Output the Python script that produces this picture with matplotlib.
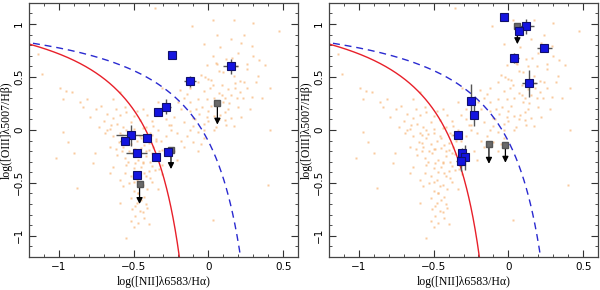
import numpy as np
import matplotlib
matplotlib.use("Agg")
import matplotlib.pyplot as plt
from matplotlib.ticker import MultipleLocator

# background galaxy sample (same in both panels)
bg_x = [-0.36, 0.03, 0.17, 0.30, 0.47, -0.11, -0.03, 0.06, 0.15, 0.24, 0.29,
        0.03, 0.12, 0.20, 0.38, -0.01, 0.07, 0.17, 0.24, 0.33,
        -0.07, -0.03, 0.03, 0.13, 0.15, 0.21, 0.29, 0.41,
        -0.14, -0.12, -0.07, -0.01, 0.02, 0.10, 0.13, 0.20, 0.28,
        -0.20, -0.18, -0.12, -0.06, -0.01, 0.08, 0.15, 0.22,
        -0.23, -0.16, -0.10, -0.03, 0.05, 0.17,
        -1.11, -1.14, -0.99, -0.95, -0.91, -0.97, -0.86, -0.81, -0.84, -0.75,
        -0.72, -0.68, -0.79, -0.64, -0.59, -0.55, -0.48, -0.61, -0.52, -0.46,
        -0.41, -0.73, -0.66, -0.57, -0.50, -0.42, -0.37, -0.32, -0.28, -0.34,
        -0.31, -0.64, -0.59,
        -0.97, -0.94, -1.02, -0.90, -0.88, -0.76, -0.77, -0.66, -0.69,
        -0.68, -0.64, -0.60, -0.57, -0.52, -0.48, -0.43, -0.40, -0.37, -0.32,
        -0.28, -0.25, -0.21, -0.18, -0.14, -0.10, -0.07, -0.61, -0.56, -0.51,
        -0.47, -0.42, -0.39, -0.34, -0.31, -0.55, -0.50, -0.45, -0.40, -0.36,
        -0.52, -0.48, -0.42, -0.38, -0.46, -0.41, -0.50, -0.43, -0.52, -0.48,
        -0.42, -0.51, -0.46, -0.49, -0.43, -0.52, -0.47, -0.55,
        -0.66, -0.59, -0.55, -0.39, -0.34, -0.31, -0.64, -0.56, -0.59, -0.31,
        -0.57, -0.34, -0.59,
        -0.05, -0.03, 0.04, -0.16, -0.23, -0.21, -0.07, -0.12, 0.41, 0.03, 0.40,
        -0.54, -0.50, -0.45, -0.44, -0.38, -0.47, -0.53, -0.58, -0.35, -0.26,
        0.00, 0.09, 0.19, 0.26, 0.11, -0.05, 0.05, 0.18, -0.09, 0.01, 0.34]
bg_y = [1.15, 1.04, 1.04, 1.01, 0.93, 0.98, 0.81, 0.90, 0.86, 0.90, 0.79,
        0.70, 0.67, 0.73, 0.61, 0.61, 0.56, 0.51, 0.45, 0.51,
        0.45, 0.37, 0.42, 0.39, 0.33, 0.36, 0.31, 0.40,
        0.34, 0.26, 0.29, 0.29, 0.23, 0.26, 0.20, 0.22, 0.20,
        0.26, 0.20, 0.18, 0.15, 0.12, 0.14, 0.11, 0.12,
        0.12, 0.075, 0.04, 0.06, 0.03, 0.04,
        0.53, 0.72, 0.40, 0.37, 0.36, 0.29, 0.26, 0.29, 0.22, 0.20,
        0.23, 0.15, 0.12, 0.11, 0.14, 0.17, 0.18, 0.06, 0.075, 0.09,
        0.14, 0.03, 0.01, 0.03, 0.01, 0.03, 0.04, 0.14, 0.20, 0.26,
        0.40, 0.29, 0.36,
        -0.02, -0.11, -0.27, -0.22, -0.55, -0.22, -0.31, -0.41, -0.03,
        0.00, -0.06, -0.11, -0.16, -0.13, -0.10, -0.14, -0.19, -0.16, -0.10,
        -0.06, 0.00, -0.03, -0.10, -0.06, -0.11, -0.02, -0.24, -0.27, -0.22,
        -0.28, -0.25, -0.30, -0.27, -0.33, -0.33, -0.36, -0.35, -0.39, -0.38,
        -0.44, -0.47, -0.44, -0.49, -0.53, -0.56, -0.58, -0.63, -0.64, -0.69,
        -0.70, -0.75, -0.77, -0.81, -0.83, -0.86, -0.88, -1.02,
        -0.16, -0.03, 0.00, -0.03, 0.00, -0.19, -0.35, -0.41, -0.47, -0.42,
        -0.53, -0.56, -0.69,
        -0.13, -0.08, 0.00, -0.16, -0.20, -0.28, -0.20, 0.00, 0.00, -0.85, -0.52,
        -0.04, -0.18, -0.08, -0.31, -0.22, -0.60, -0.50, -0.20, -0.10, 0.05,
        0.48, 0.33, 0.30, 0.58, 0.09, 0.52, 0.63, 0.44, 0.10, 0.40, 0.66]
# denser cores of the two branches
bg2_x = [-0.58, -0.55, -0.50, -0.46, -0.44, -0.40, -0.38, -0.35, -0.33, -0.36,
         -0.42, -0.45, -0.49, -0.53, -0.58, -0.62, -0.54, -0.49, -0.44, -0.38,
         -0.33, -0.47, -0.43, -0.50, -0.44, -0.39, -0.47, -0.45, -0.49, -0.44,
         -0.41, -0.50, -0.40, -0.65, -0.70, -0.62, -0.56, -0.50, -0.44, -0.38,
         -0.08, -0.04, 0.00, 0.04, 0.07, 0.09, 0.11, 0.14, 0.18, 0.21,
         0.23, 0.26, 0.02, -0.02, 0.06, 0.10, 0.13, 0.16, 0.19, 0.26,
         0.30, 0.22, 0.08, 0.00, -0.03, 0.07, 0.11, -0.10, -0.16, -0.19,
         -0.25, -0.28, 0.32, 0.36, 0.12, -0.12, 0.04]
bg2_y = [-0.05, -0.08, -0.03, -0.06, 0.02, -0.12, -0.05, -0.09, -0.20, -0.23,
         -0.20, -0.17, -0.18, -0.20, -0.12, -0.18, -0.30, -0.31, -0.30, -0.34,
         -0.37, -0.40, -0.41, -0.49, -0.52, -0.45, -0.60, -0.66, -0.72, -0.78,
         -0.74, -0.92, -0.89, 0.05, 0.08, 0.20, 0.22, 0.13, 0.20, 0.08,
         0.20, 0.22, 0.18, 0.30, 0.35, 0.42, 0.30, 0.25, 0.40, 0.46,
         0.30, 0.40, 0.47, 0.50, 0.62, 0.55, 0.60, 0.68, 0.60, 0.62,
         0.70, 0.82, 0.78, 0.08, 0.00, 0.10, 0.17, 0.11, 0.30, 0.38,
         0.05, 0.10, 0.45, 0.30, 0.05, 0.40, 0.13]

# left panel detections
l_x = [-0.24, 0.15, -0.12, -0.28, -0.34, -0.52, -0.56, -0.41, -0.48, -0.35, -0.27, -0.48]
l_y = [0.71, 0.60, 0.46, 0.22, 0.17, -0.05, -0.10, -0.08, -0.22, -0.26, -0.21, -0.43]
l_xe = [0.02, 0.05, 0.04, 0.03, 0.02, 0.10, 0.03, 0.02, 0.07, 0.01, 0.01, 0.01]
l_ye = [0.03, 0.07, 0.05, 0.07, 0.02, 0.10, 0.03, 0.02, 0.03, 0.01, 0.03, 0.01]
# left panel upper limits (square position, arrow tip)
lu_x = [0.06, -0.25, -0.46]
lu_y = [0.25, -0.19, -0.51]
lu_tip = [0.05, -0.37, -0.70]

# right panel detections
r_x = [-0.03, 0.12, 0.07, 0.24, 0.04, 0.14, -0.25, -0.23, -0.34, -0.31, -0.29, -0.32]
r_y = [1.07, 0.98, 0.93, 0.77, 0.68, 0.44, 0.27, 0.14, -0.05, -0.22, -0.26, -0.29]
r_xe = [0.0, 0.05, 0.01, 0.05, 0.03, 0.05, 0.02, 0.02, 0.03, 0.01, 0.02, 0.03]
r_ye = [0.0, 0.07, 0.01, 0.03, 0.05, 0.13, 0.16, 0.10, 0.02, 0.05, 0.12, 0.10]
ru_x = [0.06, -0.13, -0.02]
ru_y = [0.98, -0.13, -0.14]
ru_tip = [0.81, -0.32, -0.31]

# demarcation curves: Kauffmann et al. 2003 and Kewley et al. 2001
ka = (0.61, 0.05, 1.30)
ke = (0.61, 0.47, 1.19)

plt.rcParams['font.family'] = 'DejaVu Sans'
fig = plt.figure(figsize=(6, 2.9), dpi=100)
ax1 = fig.add_axes([0.048, 0.114, 0.449, 0.876])
ax2 = fig.add_axes([0.548, 0.114, 0.449, 0.876])

def panel(ax, dx, dy, dxe, dye, ux, uy, utip):
    ax.plot(bg_x + bg2_x, bg_y + bg2_y, 's', ms=1.8, mfc='#f8bd85', mec='none',
            alpha=0.8, zorder=1)
    xs = np.linspace(-1.25, -0.194, 300)
    ax.plot(xs, ka[0] / (xs - ka[1]) + ka[2], color='#e8202a', lw=1.0, zorder=2)
    xs = np.linspace(-1.25, 0.216, 300)
    ax.plot(xs, ke[0] / (xs - ke[1]) + ke[2], color='#2a2ad0', lw=1.0,
            dashes=(5, 3.5), zorder=2)
    for x, y, t in zip(ux, uy, utip):
        ax.annotate('', xy=(x, t), xytext=(x, y),
                    arrowprops=dict(arrowstyle='-|>', color='black', lw=0.9,
                                    mutation_scale=9, shrinkA=0, shrinkB=0), zorder=3)
    ax.plot(ux, uy, 's', ms=5, mfc='#6a6a6a', mec='#555555', zorder=4)
    ax.errorbar(dx, dy, xerr=dxe, yerr=dye, fmt='none', ecolor='#555555',
                elinewidth=1.0, zorder=4)
    ax.plot(dx, dy, 's', ms=5.5, mfc='#1414e0', mec='#10106a', mew=0.8, zorder=5)

    ax.set_xlim(-1.2, 0.6)
    ax.set_ylim(-1.2, 1.2)
    ax.xaxis.set_major_locator(MultipleLocator(0.5))
    ax.xaxis.set_minor_locator(MultipleLocator(0.1))
    ax.yaxis.set_major_locator(MultipleLocator(0.5))
    ax.yaxis.set_minor_locator(MultipleLocator(0.1))
    ax.tick_params(which='both', direction='in', top=True, right=True,
                   labelsize=7.5, color='#333333')
    ax.tick_params(which='major', length=5)
    ax.tick_params(which='minor', length=2.5)
    ax.set_xticks([-1, -0.5, 0, 0.5])
    ax.set_xticklabels(['\u22121', '\u22120.5', '0', '0.5'])
    ax.set_yticks([-1, -0.5, 0, 0.5, 1])
    ax.set_yticklabels(['\u22121', '\u22120.5', '0', '0.5', '1'], rotation=90, va='center')
    for s in ax.spines.values():
        s.set_color('#444444')
        s.set_linewidth(0.9)
    ax.set_xlabel('log([NII]\u03bb6583/H\u03b1)', family='Liberation Serif', fontsize=8.5,
                  labelpad=3)
    ax.set_ylabel('log([OIII]\u03bb5007/H\u03b2)', family='Liberation Serif', fontsize=8.5,
                  labelpad=1)

panel(ax1, l_x, l_y, l_xe, l_ye, lu_x, lu_y, lu_tip)
panel(ax2, r_x, r_y, r_xe, r_ye, ru_x, ru_y, ru_tip)

fig.savefig('out.png', dpi=100)
